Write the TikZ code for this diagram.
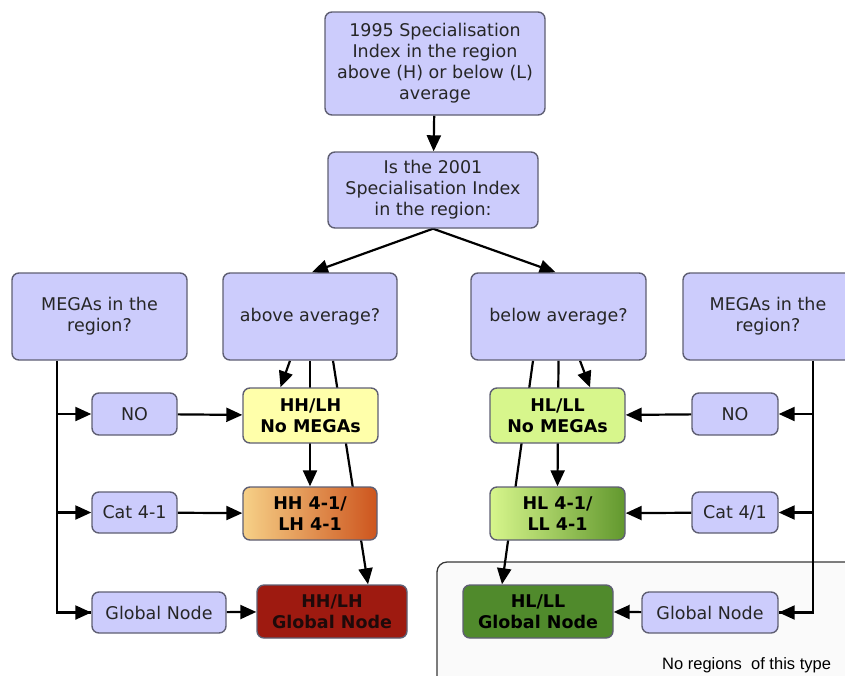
\documentclass[tikz,border=0pt]{standalone}
\usepackage{fontspec}
\setmainfont{DejaVu Sans}
\newfontfamily\notefont{Liberation Sans}
\usetikzlibrary{arrows.meta}
\definecolor{lav}{RGB}{204,204,252}
\definecolor{bordc}{RGB}{95,95,115}
\definecolor{yel}{RGB}{255,255,170}
\definecolor{orl}{RGB}{246,208,135}
\definecolor{ord}{RGB}{205,85,30}
\definecolor{dred}{RGB}{158,26,16}
\definecolor{lgr}{RGB}{215,246,140}
\definecolor{dgrA}{RGB}{98,152,46}
\definecolor{dgr}{RGB}{80,138,44}
\definecolor{contf}{RGB}{250,250,250}
\definecolor{contd}{RGB}{55,55,55}
\definecolor{dtext}{RGB}{30,10,10}
\pgfdeclarelayer{back}
\pgfdeclarelayer{mid}
\pgfsetlayers{back,mid,main}
\tikzset{
  box/.style={draw=bordc, line width=1.4pt, rounded corners=7pt, fill=lav,
    align=center, inner sep=0pt, text=black!85, font=\fontsize{17.5}{21}\selectfont},
  bbox/.style={box, text=black, font=\fontsize{17.5}{21}\selectfont\bfseries},
  conn/.style={line width=2.2pt, black, -{Triangle[length=16pt,width=14pt]}},
  plain/.style={line width=2.2pt, black},
}
\begin{document}
\begin{tikzpicture}[x=1pt,y=-1pt]
\useasboundingbox (0,0) rectangle (845,675);
\begin{pgfonlayer}{back}
\draw[draw=contd, fill=contf, line width=1.3pt, rounded corners=10pt] (437,562) rectangle (880,710);
\end{pgfonlayer}
\node[anchor=base west, inner sep=0pt, font=\notefont\fontsize{16.5}{20}\selectfont] (note) at (662,669) {No regions\ \ of this type};

\node[box, minimum width=220, minimum height=103] (top) at (435,63.5) {1995 Specialisation\\Index in the region\\above (H) or below (L)\\average};
\node[box, minimum width=210, minimum height=76] (second) at (433,190) {Is the 2001\\Specialisation Index\\in the region:};
\node[box, minimum width=175, minimum height=87] (megL) at (99.5,316.5) {MEGAs in the\\region?};
\node[box, minimum width=174, minimum height=87] (above) at (310,316.5) {above average?};
\node[box, minimum width=175, minimum height=87] (below) at (558.5,316.5) {below average?};
\node[box, minimum width=170, minimum height=87] (megR) at (768,316.5) {MEGAs in the\\region?};

\node[box, minimum width=85, minimum height=42] (noL) at (134.5,414) {NO};
\node[box, minimum width=85, minimum height=41] (catL) at (134.5,512.5) {Cat 4-1};
\node[box, minimum width=134, minimum height=41] (glL) at (159,612.5) {Global Node};
\node[bbox, fill=yel, minimum width=135, minimum height=55] (hhN) at (310.5,415.5) {HH/LH\\No MEGAs};
\node[bbox, left color=orl, right color=ord, minimum width=134, minimum height=53] (hh41) at (310,513.5) {HH 4-1/\\LH 4-1};
\node[bbox, fill=dred, text=dtext, minimum width=150, minimum height=53] (hhG) at (332,611.5) {HH/LH\\Global Node};

\node[bbox, fill=lgr, minimum width=135, minimum height=55] (llN) at (557.5,415.5) {HL/LL\\No MEGAs};
\node[bbox, left color=lgr, right color=dgrA, minimum width=135, minimum height=53] (ll41) at (557.5,513.5) {HL 4-1/\\LL 4-1};
\node[bbox, fill=dgr, minimum width=150, minimum height=53] (llG) at (538,611.5) {HL/LL\\Global Node};
\node[box, minimum width=86, minimum height=42] (noR) at (735,414) {NO};
\node[box, minimum width=86, minimum height=41] (catR) at (735,512.5) {Cat 4/1};
\node[box, minimum width=136, minimum height=41] (glR) at (710,612.5) {Global Node};

\coordinate (tl) at ([xshift=-42.5pt]megL.south);
\coordinate (tr) at ([xshift=45pt]megR.south);

\begin{pgfonlayer}{mid}
\draw[conn] (top) -- (second);
\draw[conn] (second.south) -- ([xshift=2pt]above.north);
\draw[conn] (second.south) -- ([xshift=-3pt]below.north);
% left side
\draw[conn] ([xshift=-20pt]above.south) -- ([xshift=-30pt]hhN.north);
\draw[conn] (above.south) -- (hh41.north);
\draw[conn] ([xshift=23pt]above.south) -- ([xshift=36pt]hhG.north);
\draw[plain] (tl) |- (glL.west);
\draw[conn] (tl |- noL.west) -- (noL.west);
\draw[conn] (tl |- catL.west) -- (catL.west);
\draw[conn] (tl |- glL.west) -- (glL.west);
\draw[conn] (noL) -- (hhN);
\draw[conn] (catL) -- (hh41);
\draw[conn] (glL) -- (hhG);
% right side
\draw[conn] ([xshift=-25.5pt]below.south) -- ([xshift=-36pt]llG.north);
\draw[conn] (below.south) -- (ll41.north);
\draw[conn] ([xshift=21.5pt]below.south) -- ([xshift=32.5pt]llN.north);
\draw[plain] (tr) |- (glR.east);
\draw[conn] (tr |- noR.east) -- (noR.east);
\draw[conn] (tr |- catR.east) -- (catR.east);
\draw[conn] (tr |- glR.east) -- (glR.east);
\draw[conn] (noR) -- (llN);
\draw[conn] (catR) -- (ll41);
\draw[conn] (glR) -- (llG);
\end{pgfonlayer}
\end{tikzpicture}
\end{document}
